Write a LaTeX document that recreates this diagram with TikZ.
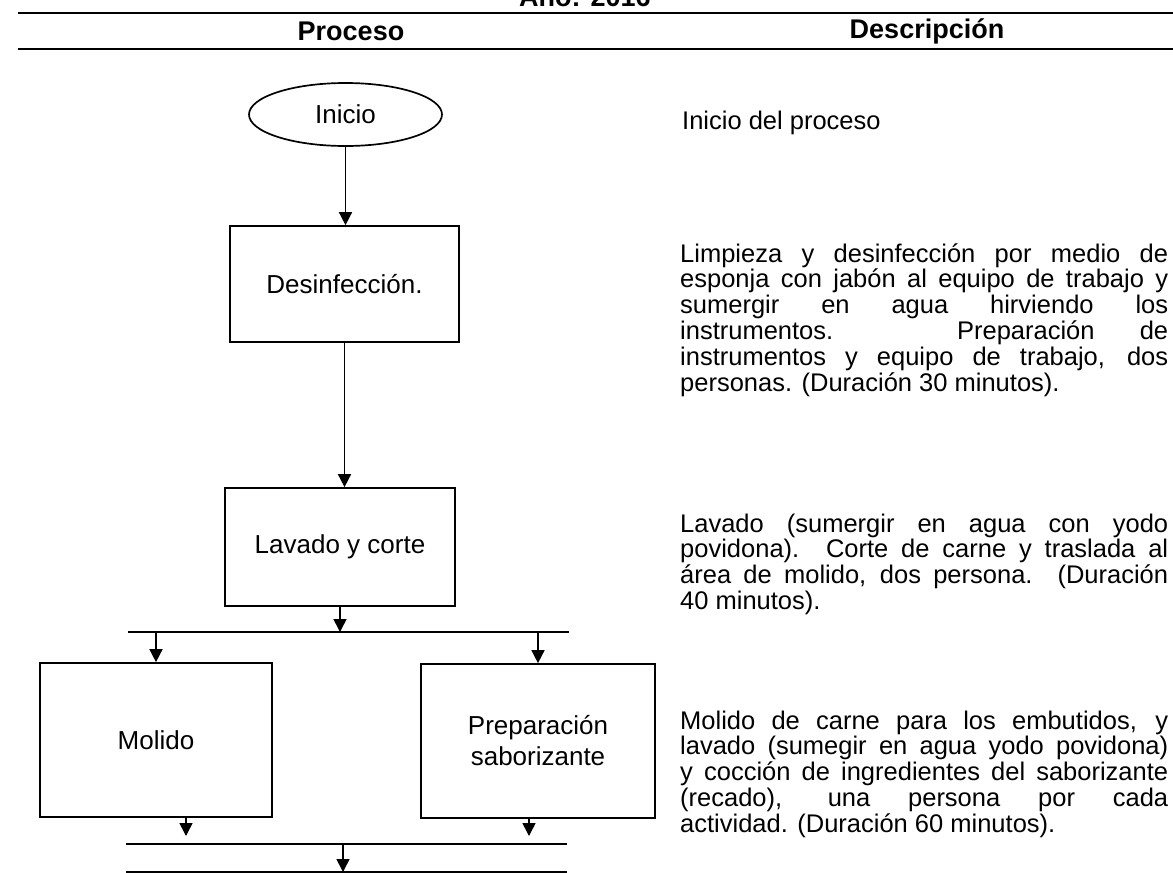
\documentclass[tikz,border=0pt]{standalone}
\usepackage{fontspec}
\setmainfont{Liberation Sans}
\usetikzlibrary{shapes.geometric,arrows.meta}
\newcommand{\jl}[1]{\makebox[488pt][s]{#1}}
\newcommand{\descblock}[1]{\parbox[t]{488pt}{\fontsize{25.5}{25.8}\selectfont #1}}
\begin{document}
\begin{tikzpicture}[x=1pt,y=-1pt,
  boxnode/.style={draw,line width=1.7pt,inner sep=0pt,align=center,font=\fontsize{26}{31}\selectfont},
  arr/.style={line width=1.6pt,-{Triangle[length=13pt,width=13pt]}},
  bar/.style={line width=1.8pt},
  rule/.style={line width=2.4pt},
  desc/.style={anchor=base west,inner sep=0pt},
  head/.style={font=\bfseries\fontsize{27}{30}\selectfont,inner sep=0pt}]
\useasboundingbox (0,0) rectangle (1173,873);
% title and header
\node[head,anchor=base] (title) at (585,6) {Año: 2016};
\coordinate (r1a) at (18,13); \coordinate (r1b) at (1173,13);
\coordinate (r2a) at (18,49); \coordinate (r2b) at (1173,49);
\draw[rule] (r1a) -- (r1b);
\draw[rule] (r2a) -- (r2b);
\node[head] (hproc) at (351,31) {Proceso};
\node[head] (hdesc) at (927,31) {Descripción};
% flow nodes
\node[boxnode,ellipse,minimum width=193pt,minimum height=63pt] (ini) at (345.5,114.5) {Inicio};
\node[boxnode,rectangle,minimum width=229pt,minimum height=116pt] (des) at (344.5,284) {Desinfección.};
\node[boxnode,rectangle,minimum width=230pt,minimum height=118pt] (lav) at (340,547) {Lavado y corte};
\node[boxnode,rectangle,minimum width=232pt,minimum height=154pt] (mol) at (156,740) {Molido};
\node[boxnode,rectangle,minimum width=234pt,minimum height=154pt] (pre) at (538,741) {Preparación\\saborizante};
% bars
\coordinate (b1a) at (128,632); \coordinate (b1b) at (569,632);
\coordinate (b2a) at (126,844); \coordinate (b2b) at (567,844);
\coordinate (b3a) at (126,872); \coordinate (b3b) at (567,872);
\draw[bar] (b1a) -- (b1b);
\draw[bar] (b2a) -- (b2b);
\draw[bar] (b3a) -- (b3b);
% connectors
\draw[arr] (ini.south) -- (ini.south |- des.north);
\draw[arr] (des.south) -- (des.south |- lav.north);
\draw[arr] (lav.south) -- (lav.south |- b1a);
\draw[arr] (mol.north |- b1a) -- (mol.north);
\draw[arr] (pre.north |- b1a) -- (pre.north);
\coordinate (m1) at (186,836);
\coordinate (p1) at (529,836);
\draw[arr] (m1 |- mol.south) -- (m1);
\draw[arr] (p1 |- pre.south) -- (p1);
\coordinate (c2) at (343,844);
\draw[arr] (c2) -- (c2 |- b3a);
% descriptions
\node[desc] (d0) at (682,129) {\descblock{Inicio del proceso}};
\node[desc] (d1) at (680,262) {\descblock{\jl{Limpieza y desinfección por medio de}\\
\jl{esponja con jabón al equipo de trabajo y}\\
\jl{sumergir en agua hirviendo los}\\
\jl{instrumentos. Preparación de}\\
\jl{instrumentos y equipo de trabajo, dos}\\
personas. (Duración 30 minutos).}};
\node[desc] (d2) at (680,532) {\descblock{\jl{Lavado (sumergir en agua con yodo}\\
\jl{povidona). Corte de carne y traslada al}\\
\jl{área de molido, dos persona. (Duración}\\
40 minutos).}};
\node[desc] (d3) at (680,729) {\descblock{\jl{Molido de carne para los embutidos, y}\\
\jl{lavado (sumegir en agua yodo povidona)}\\
\jl{y cocción de ingredientes del saborizante}\\
\jl{(recado), una persona por cada}\\
actividad. (Duración 60 minutos).}};
\end{tikzpicture}
\end{document}
